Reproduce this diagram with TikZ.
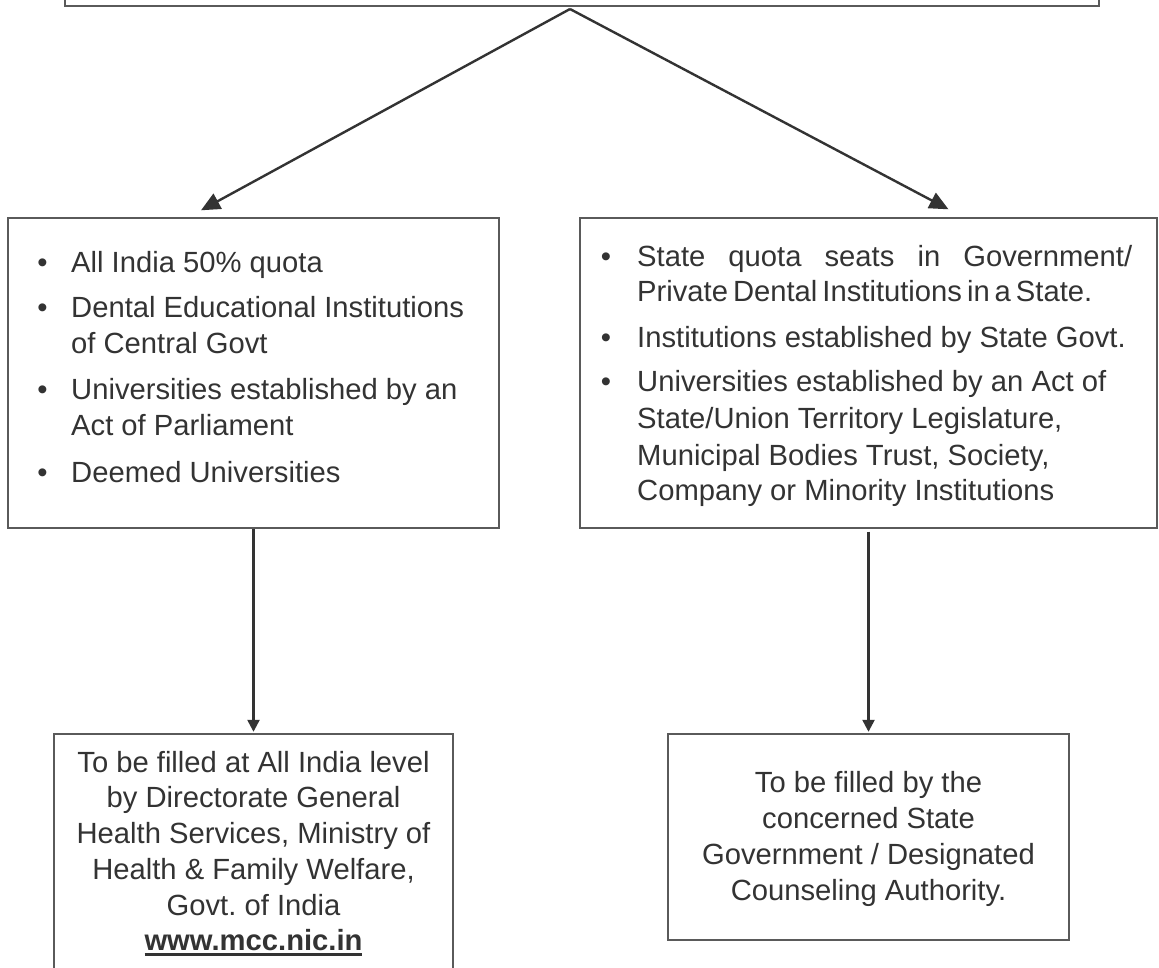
\documentclass[tikz,border=0pt]{standalone}
\usepackage{fontspec}
\setmainfont{Liberation Sans}
\usetikzlibrary{arrows.meta}
\definecolor{txtc}{HTML}{333333}
\definecolor{edgec}{HTML}{5A5A5A}
\definecolor{connc}{HTML}{333333}
\newsavebox\ulbox
\newcommand{\myul}[1]{\sbox\ulbox{#1}\rlap{\rule[-5.5pt]{\wd\ulbox}{2.2pt}}\usebox\ulbox}
\frenchspacing
\tikzset{
  boxnode/.style={draw=edgec, line width=1.4pt, rectangle, inner sep=0pt},
  tl/.style={anchor=base west, inner sep=0pt, text=txtc, font=\fontsize{29.2}{36}\selectfont\frenchspacing},
  tc/.style={anchor=base, inner sep=0pt, text=txtc, font=\fontsize{29.2}{36}\selectfont\frenchspacing},
  bul/.style={anchor=base, inner sep=0pt, text=txtc, font=\fontsize{29.2}{36}\selectfont},
  conn/.style={draw=connc, line width=2.4pt},
  bigarrow/.style={-{Triangle[length=19pt,width=17pt]}},
  smallarrow/.style={-{Triangle[length=12pt,width=12pt]}}
}
\begin{document}
\begin{tikzpicture}[x=1pt,y=-1pt]
\useasboundingbox (0,0) rectangle (1159,967);
\clip (0,0) rectangle (1159,967);
\fill[white] (0,0) rectangle (1159,967);

% boxes
\node[boxnode, minimum width=1034pt, minimum height=46pt] (top) at (582,-17) {};
\node[boxnode, minimum width=491pt, minimum height=310pt] (lbox) at (253.5,373) {};
\node[boxnode, minimum width=577pt, minimum height=310pt] (rbox) at (868.5,373) {};
\node[boxnode, minimum width=399pt, minimum height=276pt] (blbox) at (253.5,872) {};
\node[boxnode, minimum width=401pt, minimum height=206pt] (brbox) at (868.5,837) {};

% left box text
\node[bul] (lb1) at (42.5,272) {•};
\node[tl] (lt1) at (71,272) {All India 50\% quota};
\node[bul] (lb2) at (42.5,317) {•};
\node[tl] (lt2) at (71,317) {Dental Educational Institutions};
\node[tl] (lt3) at (71,353) {of Central Govt};
\node[bul] (lb3) at (42.5,399) {•};
\node[tl] (lt4) at (71,399) {Universities established by an};
\node[tl] (lt5) at (71,435) {Act of Parliament};
\node[bul] (lb4) at (42.5,482) {•};
\node[tl] (lt6) at (71,482) {Deemed Universities};

% right box text
\node[bul] (rb1) at (606,266) {•};
\node[tl] (rt1) at (637,266) {\makebox[495pt][s]{State quota seats in Government/}};
\node[tl] (rt2) at (637,301) {\spaceskip=5pt plus 2pt minus 1pt Private Dental Institutions in a State.};
\node[bul] (rb2) at (606,347) {•};
\node[tl] (rt3) at (637,347) {Institutions established by State Govt.};
\node[bul] (rb3) at (606,391) {•};
\node[tl] (rt4) at (637,391) {Universities established by an Act of};
\node[tl] (rt5) at (637,428) {State/Union Territory Legislature,};
\node[tl] (rt6) at (637,465) {Municipal Bodies Trust, Society,};
\node[tl] (rt7) at (637,500) {Company or Minority Institutions};

% bottom left text
\node[tc] (bl1) at (253.5,772) {To be filled at All India level};
\node[tc] (bl2) at (253.5,807) {by Directorate General};
\node[tc] (bl3) at (253.5,843) {Health Services, Ministry of};
\node[tc] (bl4) at (253.5,879) {Health \& Family Welfare,};
\node[tc] (bl5) at (253.5,915) {Govt. of India};
\node[tc] (bl6) at (253.5,950) {\myul{\bfseries www.mcc.nic.in}};

% bottom right text
\node[tc] (br1) at (868.5,792) {To be filled by the};
\node[tc] (br2) at (868.5,828) {concerned State};
\node[tc] (br3) at (868.5,864) {Government / Designated};
\node[tc] (br4) at (868.5,900) {Counseling Authority.};

% connectors
\coordinate (apex) at (570,9);
\draw[conn, bigarrow, line join=miter] (apex) -- ([xshift=-52.5pt,yshift=7pt]lbox.north);
\draw[conn, bigarrow] (apex) -- ([xshift=80pt,yshift=8pt]rbox.north);
\draw[conn, smallarrow, shorten >=1.5pt] (lbox.south) -- (blbox.north);
\draw[conn, smallarrow, shorten >=1.5pt, shorten <=3pt] (rbox.south) -- (brbox.north);
\end{tikzpicture}
\end{document}
